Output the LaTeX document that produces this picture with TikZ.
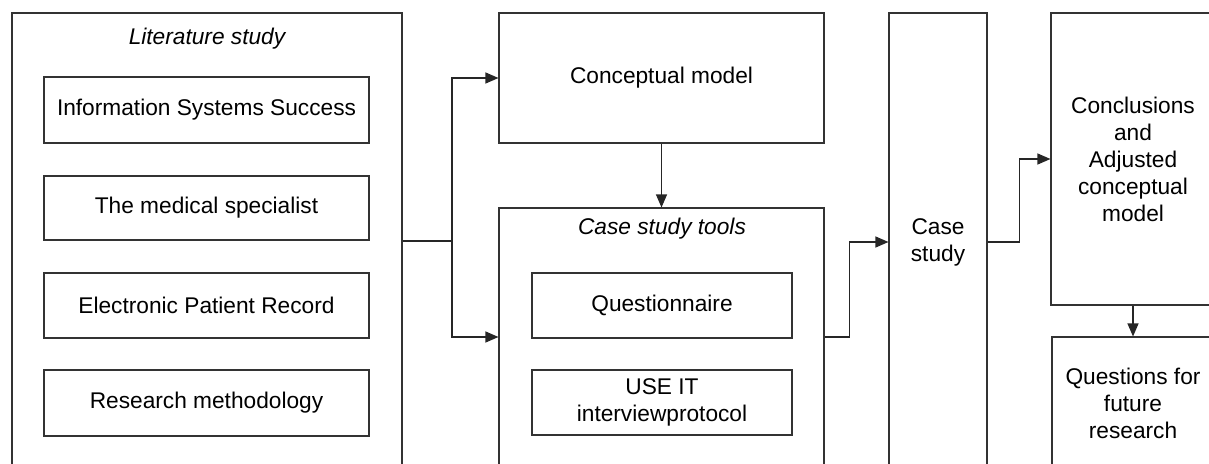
\documentclass[tikz,border=0pt]{standalone}
\usepackage{fontspec}
\setmainfont{Liberation Sans}
\usetikzlibrary{arrows.meta,calc}

\begin{document}
\begin{tikzpicture}[x=1pt,y=-1pt,
  every node/.style={font=\fontsize{22.7}{27}\selectfont},
  box/.style={draw=black!80,line width=1.1pt,rectangle,inner sep=0pt,align=center},
  title/.style={font=\fontsize{22.7}{27}\selectfont\itshape,inner sep=0pt},
  conn/.style={draw=black!85,line width=1.1pt},
  arr/.style={conn,-{Triangle[length=13pt,width=11pt]}}]
\useasboundingbox (0,0) rectangle (1209,463);
\clip (0,0) rectangle (1209,463);

% literature study column
\node[box,minimum width=390,minimum height=469] (lit) at (207,247.5) {};
\node[title] (littitle) at (207,39) {Literature study};
\node[box,minimum width=325,minimum height=66] (iss) at (206.5,110) {Information Systems Success};
\node[box,minimum width=325,minimum height=64] (spec) at (206.5,208) {The medical specialist};
\node[box,minimum width=325,minimum height=65] (epr) at (206.5,305.5) {Electronic Patient Record};
\node[box,minimum width=325,minimum height=66] (meth) at (206.5,403) {Research methodology};

% conceptual model and case study tools
\node[box,minimum width=325,minimum height=130] (cm) at (661.5,78) {Conceptual model};
\node[box,minimum width=325,minimum height=258] (tools) at (661.5,337) {};
\node[title] (toolstitle) at (662,229) {Case study tools};
\node[box,minimum width=260,minimum height=65] (quest) at (662,305.5) {Questionnaire};
\node[box,minimum width=260,minimum height=65] (useit) at (662,402.5) {USE IT\\interviewprotocol};

% case study
\node[box,minimum width=98,minimum height=458] (cs) at (938,242) {Case\\study};

% conclusions and follow-up questions
\node[box,minimum width=164,minimum height=292] (concl) at (1133,159)
  {Conclusions\\and\\Adjusted\\conceptual\\model};
\node[box,minimum width=162,minimum height=132] (future) at (1133,403)
  {Questions for\\future\\research};

% connectors
\coordinate (j1) at (452,241);
\draw[conn] (lit.east |- j1) -- (j1);
\draw[arr] (j1) |- (cm.west);
\draw[arr] (j1) |- (tools.west);
\draw[arr] (cm.south) -- (tools.north);
\draw[arr] (tools.east) -- ++(25,0) |- (cs.west);
\draw[arr] (cs.east) -- ++(32,0) |- (concl.west);
\draw[arr] (concl.south) -- (future.north);
\end{tikzpicture}
\end{document}
